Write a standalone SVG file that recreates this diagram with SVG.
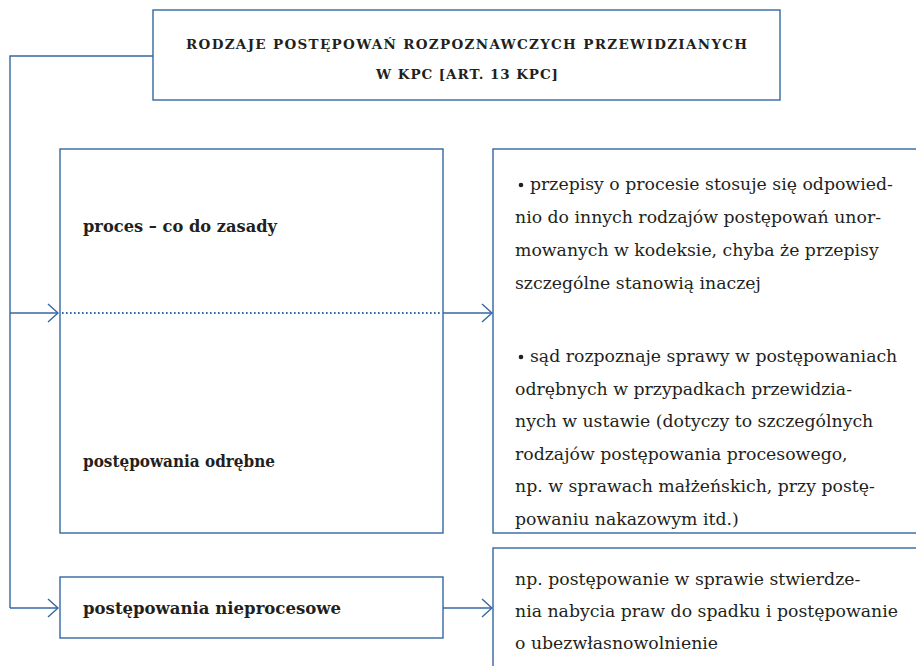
<svg xmlns="http://www.w3.org/2000/svg" width="916" height="666" viewBox="0 0 916 666">
<defs>
<style>
.box{fill:#fff;stroke:#3567a0;stroke-width:1.4}
.ln{fill:none;stroke:#3567a0;stroke-width:1.4}
.dot{fill:none;stroke:#3567a0;stroke-width:2;stroke-dasharray:1.6 2.4}
.ttl{font-family:"DejaVu Serif",serif;font-weight:bold;font-size:13.5px;fill:#231f20}
.lb{font-family:"DejaVu Serif",serif;font-weight:bold;font-size:16.5px;fill:#231f20}
.tx{font-family:"DejaVu Serif",serif;font-size:17.3px;fill:#231f20}
</style>
<marker id="ah" markerWidth="12" markerHeight="20" refX="11" refY="10" orient="auto" markerUnits="userSpaceOnUse">
<path d="M1,1 L11,10 L1,19" fill="none" stroke="#3567a0" stroke-width="1.4"/>
</marker>
</defs>
<rect width="916" height="666" fill="#fff"/>
<g id="connectors">
<path class="ln" d="M153,56 H10 V608"/>
<path class="ln" d="M10,313 H58" marker-end="url(#ah)"/>
<path class="ln" d="M10,608 H58" marker-end="url(#ah)"/>
<path class="ln" d="M443,313 H492" marker-end="url(#ah)"/>
<path class="ln" d="M443,608 H492" marker-end="url(#ah)"/>
</g>
<g id="title">
<rect class="box" x="153" y="10" width="627" height="90"/>
<text class="ttl" x="186" y="49" textLength="561" lengthAdjust="spacing">RODZAJE POSTĘPOWAŃ ROZPOZNAWCZYCH PRZEWIDZIANYCH</text>
<text class="ttl" x="376" y="79" textLength="182" lengthAdjust="spacing">W KPC [ART. 13 KPC]</text>
</g>
<g id="left-main">
<rect class="box" x="60" y="149" width="383" height="384"/>
<line class="dot" x1="62" y1="313" x2="441" y2="313"/>
<text class="lb" x="83" y="232" textLength="194" lengthAdjust="spacingAndGlyphs">proces – co do zasady</text>
<text class="lb" x="83" y="467" textLength="192" lengthAdjust="spacingAndGlyphs">postępowania odrębne</text>
</g>
<g id="right-main">
<rect class="box" x="493" y="149" width="440" height="384"/>
<circle cx="521" cy="185" r="2.3" fill="#231f20"/>
<text class="tx" x="530" y="190">przepisy o procesie stosuje się odpowied-</text>
<text class="tx" x="515" y="223">nio do innych rodzajów postępowań unor-</text>
<text class="tx" x="515" y="256">mowanych w kodeksie, chyba że przepisy</text>
<text class="tx" x="515" y="289">szczególne stanowią inaczej</text>
<circle cx="521" cy="357" r="2.3" fill="#231f20"/>
<text class="tx" x="530" y="362">sąd rozpoznaje sprawy w postępowaniach</text>
<text class="tx" x="515" y="395">odrębnych w przypadkach przewidzia-</text>
<text class="tx" x="515" y="427">nych w ustawie (dotyczy to szczególnych</text>
<text class="tx" x="515" y="460">rodzajów postępowania procesowego,</text>
<text class="tx" x="515" y="492">np. w sprawach małżeńskich, przy postę-</text>
<text class="tx" x="515" y="525">powaniu nakazowym itd.)</text>
</g>
<g id="left-bottom">
<rect class="box" x="60" y="577" width="383" height="61"/>
<text class="lb" x="83" y="614" textLength="258" lengthAdjust="spacingAndGlyphs">postępowania nieprocesowe</text>
</g>
<g id="right-bottom">
<rect class="box" x="493" y="548" width="440" height="140"/>
<text class="tx" x="515" y="585">np. postępowanie w sprawie stwierdze-</text>
<text class="tx" x="515" y="617">nia nabycia praw do spadku i postępowanie</text>
<text class="tx" x="515" y="649">o ubezwłasnowolnienie</text>
</g>
</svg>
